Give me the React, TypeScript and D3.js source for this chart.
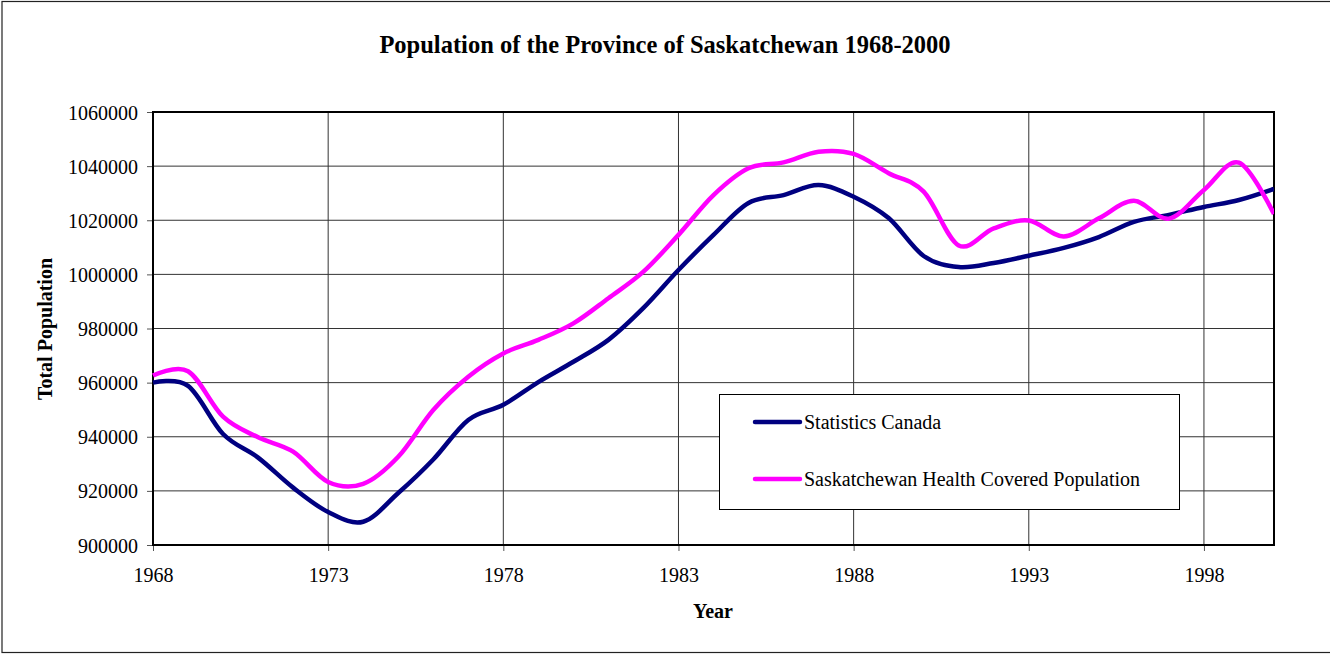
import React, { useEffect, useRef } from "react";
import * as d3 from "d3";

// data
const years = d3.range(1968, 2001);
const statsCanada = [
  960000, 958800, 941000, 932300, 921200, 912200, 908600, 919200, 931600, 946200,
  951800, 960200, 967700, 975800, 987600, 1001600, 1014600, 1026400, 1029300, 1033000,
  1028700, 1020800, 1006800, 1002700, 1004200, 1006900, 1009800, 1013800, 1019400, 1022000,
  1024900, 1027500, 1031600,
];
const healthCovered = [
  962600, 964200, 947400, 939800, 934500, 923300, 922600, 932600, 949900, 962200,
  970800, 975800, 981900, 991200, 1001000, 1014600, 1029300, 1039200, 1041400, 1045300,
  1044500, 1037400, 1030600, 1010700, 1017000, 1019900, 1014000, 1020700, 1027200, 1020600,
  1031200, 1041300, 1022300,
];
const yTicks = d3.range(900000, 1060001, 20000);
const xTicks = [1968, 1973, 1978, 1983, 1988, 1993, 1998];

const series = [
  { name: "Statistics Canada", values: statsCanada, color: "#000080" },
  { name: "Saskatchewan Health Covered Population", values: healthCovered, color: "#FF00FF" },
];

const W = 1330;
const H = 654;
const margin = { left: 153, top: 112, right: 1274, bottom: 545 };
const font = "'Liberation Serif', 'Times New Roman', serif";

function Chart() {
  const svgRef = useRef<SVGSVGElement>(null);

  useEffect(() => {
    const svg = d3.select(svgRef.current);
    svg.selectAll("*").remove();

    const x = d3.scaleLinear().domain([1968, 2000]).range([margin.left, margin.right]);
    const y = d3.scaleLinear().domain([900000, 1060000]).range([margin.bottom, margin.top]);

    // outer frame
    svg.append("rect")
      .attr("x", 2).attr("y", 1.5)
      .attr("width", W + 10).attr("height", H - 3)
      .attr("fill", "#fff").attr("stroke", "#222").attr("stroke-width", 1.2);

    // gridlines
    svg.append("g")
      .selectAll("line.h")
      .data(yTicks)
      .join("line")
      .attr("x1", margin.left).attr("x2", margin.right)
      .attr("y1", d => y(d)).attr("y2", d => y(d))
      .attr("stroke", "#333").attr("stroke-width", 1);

    svg.append("g")
      .selectAll("line.v")
      .data(xTicks.slice(1))
      .join("line")
      .attr("x1", d => x(d)).attr("x2", d => x(d))
      .attr("y1", margin.top).attr("y2", margin.bottom)
      .attr("stroke", "#333").attr("stroke-width", 1);

    // axes
    const yAxis = d3.axisLeft(y).tickValues(yTicks).tickSize(6).tickFormat(d => String(d));
    const gy = svg.append("g").attr("transform", `translate(${margin.left},0)`).call(yAxis);
    gy.select(".domain").remove();
    gy.selectAll("line").attr("stroke", "#555");
    gy.selectAll("text")
      .attr("x", -15).attr("dy", "0.35em")
      .style("font-family", font).style("font-size", "20px").attr("fill", "#000");

    const xAxis = d3.axisBottom(x).tickValues(xTicks).tickSize(6).tickFormat(d => String(d));
    const gx = svg.append("g").attr("transform", `translate(0,${margin.bottom})`).call(xAxis);
    gx.select(".domain").remove();
    gx.selectAll("line").attr("stroke", "#555");
    gx.selectAll("text")
      .attr("y", 30).attr("dy", "0.35em")
      .style("font-family", font).style("font-size", "20px").attr("fill", "#000");

    // plot border
    svg.append("rect")
      .attr("x", margin.left).attr("y", margin.top)
      .attr("width", margin.right - margin.left).attr("height", margin.bottom - margin.top)
      .attr("fill", "none").attr("stroke", "#000").attr("stroke-width", 2);

    // lines
    const line = d3.line<number>()
      .x((_, i) => x(years[i]))
      .y(d => y(d))
      .curve(d3.curveCardinal.tension(0));

    svg.append("clipPath").attr("id", "plotclip")
      .append("rect")
      .attr("x", margin.left - 2).attr("y", margin.top)
      .attr("width", margin.right - margin.left + 2).attr("height", margin.bottom - margin.top);

    svg.append("g").attr("clip-path", "url(#plotclip)")
      .selectAll("path")
      .data(series)
      .join("path")
      .attr("d", s => line(s.values))
      .attr("fill", "none")
      .attr("stroke", s => s.color)
      .attr("stroke-width", 4.5)
      .attr("stroke-linejoin", "round");

    // title
    svg.append("text")
      .attr("x", 665).attr("y", 53)
      .attr("text-anchor", "middle")
      .style("font-family", font).style("font-size", "24.5px").style("font-weight", "bold")
      .text("Population of the Province of Saskatchewan 1968-2000");

    svg.append("text")
      .attr("transform", "translate(52,329) rotate(-90)")
      .attr("text-anchor", "middle")
      .style("font-family", font).style("font-size", "20px").style("font-weight", "bold")
      .text("Total Population");

    svg.append("text")
      .attr("x", 713).attr("y", 618)
      .attr("text-anchor", "middle")
      .style("font-family", font).style("font-size", "20px").style("font-weight", "bold")
      .text("Year");

    // legend
    const lg = svg.append("g");
    lg.append("rect")
      .attr("x", 719.5).attr("y", 394.5).attr("width", 460).attr("height", 115)
      .attr("fill", "#fff").attr("stroke", "#000").attr("stroke-width", 1);
    const items = lg.selectAll("g.item")
      .data(series)
      .join("g")
      .attr("transform", (_, i) => `translate(0,${422 + i * 57})`);
    items.append("line")
      .attr("x1", 755).attr("x2", 800)
      .attr("stroke", s => s.color).attr("stroke-width", 4.5).attr("stroke-linecap", "round");
    items.append("text")
      .attr("x", 804).attr("dy", "0.35em")
      .style("font-family", font).style("font-size", "20px")
      .text(s => s.name);
  }, []);

  return <svg ref={svgRef} width={W} height={H} style={{ position: "absolute", left: 0, top: 0 }} />;
}

export default function App() {
  return <Chart />;
}
